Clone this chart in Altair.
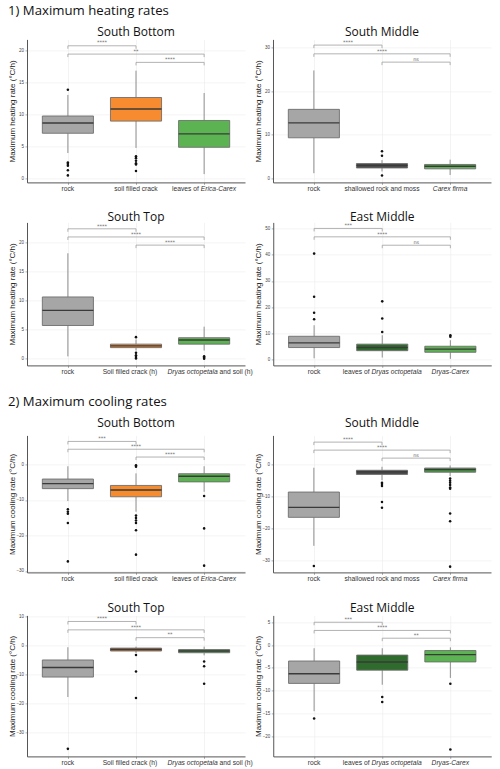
import altair as alt
import pandas as pd

HEAT_TITLE = "1) Maximum heating rates"
COOL_TITLE = "2) Maximum cooling rates"
HEAT_YLABEL = "Maximum heating rate (°C/h)"
COOL_YLABEL = "Maximum cooling rate (°C/h)"

SB_CATS = ["rock", "soil filled crack", "leaves of Erica-Carex"]
SM_CATS = ["rock", "shallowed rock and moss", "Carex firma"]
ST_CATS = ["rock", "Soil filled crack (h)", "Dryas octopetala and soil (h)"]
EM_CATS = ["rock", "leaves of Dryas octopetala", "Dryas-Carex"]
# part of each category label set in italics (species names)
SB_ITAL = ["", "", "Erica-Carex"]
SM_ITAL = ["", "", "Carex firma"]
ST_ITAL = ["", "", "Dryas octopetala"]
EM_ITAL = ["", "Dryas octopetala", "Dryas-Carex"]

SIG_PAIRS = [(1, 2), (1, 3), (2, 3)]

# box stats per category: [lower whisker, q1, median, q3, upper whisker]
SB_HEAT_STATS = [[4.0, 7.1, 8.7, 9.8, 13.1], [4.8, 9.0, 10.9, 12.7, 16.9], [0.7, 4.9, 7.0, 9.1, 13.4]]
SB_HEAT_OUT = [[13.9, 2.5, 2.3, 2.0, 1.3, 0.5], [3.5, 3.2, 2.8, 2.4, 2.2, 1.2], []]
SB_HEAT_LEVELS = [20.8, 19.5, 18.2]
SB_HEAT_SIG = ["****", "**", "****"]

SM_HEAT_STATS = [[1.2, 9.3, 12.7, 15.8, 24.7], [1.6, 2.4, 3.0, 3.4, 4.2], [0.8, 2.2, 2.8, 3.2, 4.3]]
SM_HEAT_OUT = [[], [6.2, 5.2, 0.7], []]
SM_HEAT_LEVELS = [30.5, 28.5, 26.6]
SM_HEAT_SIG = ["****", "****", "ns"]

ST_HEAT_STATS = [[0.4, 5.7, 8.3, 10.6, 18.1], [1.4, 1.9, 2.2, 2.5, 3.3], [1.4, 2.5, 3.2, 3.6, 5.5]]
ST_HEAT_OUT = [[], [3.7, 1.0, 0.6, 0.3, 0.05], [0.4, 0.2, 0.0]]
ST_HEAT_LEVELS = [22.3, 20.9, 19.5]
ST_HEAT_SIG = ["****", "****", "****"]

EM_HEAT_STATS = [[0.5, 4.6, 6.4, 8.9, 13.1], [0.8, 3.4, 4.6, 5.9, 9.3], [0.3, 2.8, 4.0, 5.1, 7.4]]
EM_HEAT_OUT = [[40.4, 24.0, 17.9, 15.4], [22.2, 15.7, 10.5], [9.3, 8.7]]
EM_HEAT_LEVELS = [50.0, 46.8, 43.6]
EM_HEAT_SIG = ["***", "****", "ns"]

SB_COOL_STATS = [[-10.3, -6.8, -5.4, -4.1, -0.5], [-13.3, -9.1, -7.2, -5.9, -2.5], [-7.7, -4.9, -3.3, -2.6, -0.5]]
SB_COOL_OUT = [[-12.6, -13.3, -13.9, -16.5, -27.3],
               [-0.2, -0.65, -14.4, -15.1, -15.8, -16.5, -18.5, -25.4],
               [-8.9, -18.0, -28.5]]
SB_COOL_LEVELS = [6.5, 4.3, 2.1]
SB_COOL_SIG = ["***", "****", "****"]

SM_COOL_STATS = [[-25.4, -16.5, -13.4, -8.6, -1.0], [-4.9, -3.1, -2.3, -1.8, -0.7], [-3.6, -2.4, -1.6, -1.1, -0.3]]
SM_COOL_OUT = [[-31.7], [-5.7, -6.1, -6.7, -11.7, -13.5],
               [-4.4, -5.1, -5.7, -6.4, -7.2, -7.6, -15.3, -17.7, -31.9]]
SM_COOL_LEVELS = [7.0, 4.5, 2.0]
SM_COOL_SIG = ["****", "****", "ns"]

ST_COOL_STATS = [[-17.7, -10.8, -7.5, -4.9, -0.5], [-2.5, -1.8, -1.3, -0.8, -0.3], [-3.3, -2.4, -1.8, -1.3, -0.3]]
ST_COOL_OUT = [[-35.6], [-3.2, -8.9, -18.0], [-5.4, -7.1, -13.1]]
ST_COOL_LEVELS = [8.4, 5.5, 2.8]
ST_COOL_SIG = ["****", "****", "**"]

EM_COOL_STATS = [[-14.5, -8.4, -6.3, -3.5, -0.7], [-8.7, -5.5, -3.7, -2.2, -0.7], [-7.2, -3.7, -2.1, -1.2, -0.5]]
EM_COOL_OUT = [[-16.1], [-11.4, -12.5], [-8.5, -22.9]]
EM_COOL_LEVELS = [5.0, 3.2, 1.5]
EM_COOL_SIG = ["***", "****", "**"]

GREY = "#a6a6a6"
ORANGE = "#f68b2f"
GREEN = "#5cb352"
DARKGREEN = "#2f6b2c"
DARKGREY = "#4a4a4a"
MIDGREEN = "#4a9446"

FONT = "Liberation Sans"
TFONT = "Open Sans"
PW = 218
XFS = 6.7
GAP = 9
NO_SHIFT = [0, 0, 0]
ST_SHIFT = [0, -6, 6]   # label nudges used in the South Top panels

# Arial / Liberation Sans advance widths (per 1000 em) for label layout
_W = {' ': 278, '(': 333, ')': 333, '-': 333, 'C': 722, 'D': 722, 'E': 667, 'S': 667,
      'a': 556, 'b': 556, 'c': 500, 'd': 556, 'e': 556, 'f': 278, 'g': 556, 'h': 556,
      'i': 222, 'k': 500, 'l': 222, 'm': 833, 'n': 556, 'o': 556, 'p': 556, 'r': 333,
      's': 500, 't': 278, 'u': 556, 'v': 500, 'w': 722, 'x': 500, 'y': 500}


def tw(s):
    return sum(_W.get(ch, 556) for ch in s) * XFS / 1000.0


def label_parts(label, ital, shift):
    if ital and ital in label:
        k = label.index(ital)
        parts = [(label[:k], "normal"), (ital, "italic"), (label[k + len(ital):], "normal")]
    else:
        parts = [(label, "normal")]
    parts = [p for p in parts if p[0]]
    total = tw("".join(p[0] for p in parts))
    out, cur = [], -total / 2.0 + shift
    for text, style in parts:
        lead = len(text) - len(text.lstrip(" "))
        out.append((text.strip(" "), style, cur + tw(" " * lead)))
        cur += tw(text)
    return out


def overhang(cats, shifts):
    cx = (3 - 0.4) / 3.2 * PW
    return max(0.0, cx + shifts[2] + tw(cats[2]) / 2.0 - PW)


def panel(title, cats, itals, shifts, stats, outs, levels, sigs, colors, ydomain, yticks, ytitle,
          height, title_dy, section=None, sec_dy=0.0):
    box = pd.DataFrame({
        "idx": [1, 2, 3],
        "lo": [s[0] for s in stats],
        "q1": [s[1] for s in stats],
        "med": [s[2] for s in stats],
        "q3": [s[3] for s in stats],
        "hi": [s[4] for s in stats],
        "color": colors,
    })
    out = pd.DataFrame({
        "idx": [i + 1 for i, o in enumerate(outs) for _ in o],
        "val": [v for o in outs for v in o],
    })
    br = pd.DataFrame({
        "a": [p[0] for p in SIG_PAIRS],
        "b": [p[1] for p in SIG_PAIRS],
        "level": levels,
        "sig": sigs,
    })
    xscale = alt.Scale(domain=[0.4, 3.6], nice=False, zero=False)
    xaxis = alt.Axis(values=[1, 2, 3], labels=False, title=None, tickSize=2)
    yscale = alt.Scale(domain=ydomain, nice=False, zero=False)
    yaxis = alt.Axis(values=yticks, title=ytitle, labelFontSize=4.5, titleFontSize=8,
                     minExtent=9, maxExtent=9, titlePadding=1.5, labelPadding=1.5, tickSize=2)

    def X(f):
        return alt.X(f, type="quantitative", scale=xscale, axis=xaxis)

    def Y(f):
        return alt.Y(f, type="quantitative", scale=yscale, axis=yaxis)

    base = alt.Chart(box)
    wh_hi = base.mark_rule(color="#8f8f8f", strokeWidth=1).encode(x=X("idx"), y=Y("q3"), y2="hi")
    wh_lo = base.mark_rule(color="#8f8f8f", strokeWidth=1).encode(x=X("idx"), y=Y("lo"), y2="q1")
    bx = base.transform_calculate(x0="datum.idx - 0.375", x1="datum.idx + 0.375")
    bars = bx.mark_bar(stroke="#6e6e6e", strokeWidth=0.9).encode(
        x=X("x0"), x2="x1", y=Y("q1"), y2="q3", fill=alt.Fill("color:N", scale=None))
    med = bx.mark_rule(color="#3a3a3a", strokeWidth=1.4).encode(x=X("x0"), x2="x1", y=Y("med"))
    pts = alt.Chart(out).mark_circle(size=6.5, color="#111", opacity=1).encode(x=X("idx"), y=Y("val"))
    bc = alt.Chart(br)
    brk = bc.mark_rule(color="#a0a0a0", strokeWidth=0.8).encode(x=X("a"), x2="b", y=Y("level"))
    tip_a = bc.mark_rule(color="#a0a0a0", strokeWidth=0.8, y2Offset=3).encode(x=X("a"), y=Y("level"), y2="level")
    tip_b = bc.mark_rule(color="#a0a0a0", strokeWidth=0.8, y2Offset=3).encode(x=X("b"), y=Y("level"), y2="level")
    txt = bc.transform_calculate(mid="(datum.a + datum.b) / 2").mark_text(
        fontSize=5, baseline="bottom", dy=-0.3, color="#666", font="DejaVu Sans").encode(
        x=X("mid"), y=Y("level"), text="sig:N")
    ttl = alt.Chart(pd.DataFrame({"t": [title]})).mark_text(
        align="center", baseline="middle", fontSize=12, font=TFONT, color="#111").encode(
        x=alt.value(PW / 2), y=alt.value(-title_dy), text="t:N")
    layers = [wh_hi, wh_lo, bars, med, pts, brk, tip_a, tip_b, txt, ttl]
    for i, (cat, ital) in enumerate(zip(cats, itals)):
        for text, style, dx in label_parts(cat, ital, shifts[i]):
            lab = alt.Chart(pd.DataFrame({"idx": [i + 1], "t": [text]})).mark_text(
                align="left", baseline="top", dx=dx, fontSize=XFS, font=FONT,
                fontStyle=style, color="#333").encode(
                x=X("idx"), y=alt.value(height + 4), text="t:N")
            layers.append(lab)
    if section:
        st = alt.Chart(pd.DataFrame({"t": [section]})).mark_text(
            align="left", baseline="middle", fontSize=13.2, font=TFONT, color="#111").encode(
            x=alt.value(-19), y=alt.value(-sec_dy), text="t:N")
        layers.append(st)
    return alt.layer(*layers).properties(width=PW, height=height)


p1 = panel("South Bottom", SB_CATS, SB_ITAL, NO_SHIFT, SB_HEAT_STATS, SB_HEAT_OUT, SB_HEAT_LEVELS,
           SB_HEAT_SIG, [GREY, ORANGE, GREEN], [-0.6, 21.8], [0, 5, 10, 15, 20], HEAT_YLABEL, 143,
           7.6, HEAT_TITLE, 28.3)
p2 = panel("South Middle", SM_CATS, SM_ITAL, NO_SHIFT, SM_HEAT_STATS, SM_HEAT_OUT, SM_HEAT_LEVELS,
           SM_HEAT_SIG, [GREY, DARKGREY, GREEN], [-0.9, 31.8], [0, 10, 20, 30], HEAT_YLABEL, 143, 7.6)
p3 = panel("South Top", ST_CATS, ST_ITAL, ST_SHIFT, ST_HEAT_STATS, ST_HEAT_OUT, ST_HEAT_LEVELS,
           ST_HEAT_SIG, [GREY, ORANGE, GREEN], [-1.15, 23.4], [0, 5, 10, 15, 20], HEAT_YLABEL, 143, 5.0)
p4 = panel("East Middle", EM_CATS, EM_ITAL, NO_SHIFT, EM_HEAT_STATS, EM_HEAT_OUT, EM_HEAT_LEVELS,
           EM_HEAT_SIG, [GREY, DARKGREEN, GREEN], [-2.2, 52.3], [0, 10, 20, 30, 40, 50], HEAT_YLABEL,
           143, 5.0)
p5 = panel("South Bottom", SB_CATS, SB_ITAL, NO_SHIFT, SB_COOL_STATS, SB_COOL_OUT, SB_COOL_LEVELS,
           SB_COOL_SIG, [GREY, ORANGE, GREEN], [-30.4, 8.2], [-30, -20, -10, 0], COOL_YLABEL, 137,
           12.4, COOL_TITLE, 33.8)
p6 = panel("South Middle", SM_CATS, SM_ITAL, NO_SHIFT, SM_COOL_STATS, SM_COOL_OUT, SM_COOL_LEVELS,
           SM_COOL_SIG, [GREY, DARKGREY, MIDGREEN], [-33.7, 9.1], [-30, -20, -10, 0], COOL_YLABEL,
           137, 12.4)
p7 = panel("South Top", ST_CATS, ST_ITAL, ST_SHIFT, ST_COOL_STATS, ST_COOL_OUT, ST_COOL_LEVELS,
           ST_COOL_SIG, [GREY, "#c9772b", MIDGREEN], [-38.2, 10.5], [-30, -20, -10, 0, 10],
           COOL_YLABEL, 141, 7.4)
p8 = panel("East Middle", EM_CATS, EM_ITAL, NO_SHIFT, EM_COOL_STATS, EM_COOL_OUT, EM_COOL_LEVELS,
           EM_COOL_SIG, [GREY, DARKGREEN, GREEN], [-24.4, 6.5], [-20, -15, -10, -5, 0, 5],
           COOL_YLABEL, 141, 7.4)

st_gap = GAP - overhang(ST_CATS, ST_SHIFT)

chart = alt.vconcat(
    alt.hconcat(p1, p2, spacing=GAP),
    alt.hconcat(p3, p4, spacing=st_gap),
    alt.hconcat(p5, p6, spacing=GAP),
    alt.hconcat(p7, p8, spacing=st_gap),
    spacing=18,
).properties(
    padding={"left": 8, "top": 3.4, "right": 2, "bottom": 2}
).configure_view(stroke=None).configure_axis(
    domainColor="#555", domainWidth=1, tickColor="#777", tickWidth=0.6,
    gridColor="#ebebeb", gridWidth=0.6, labelFont=FONT, titleFont=FONT,
    titleFontWeight="normal", titleColor="#222", labelColor="#444"
)

chart.save("out.html", embed_options={"renderer": "svg", "actions": False})
